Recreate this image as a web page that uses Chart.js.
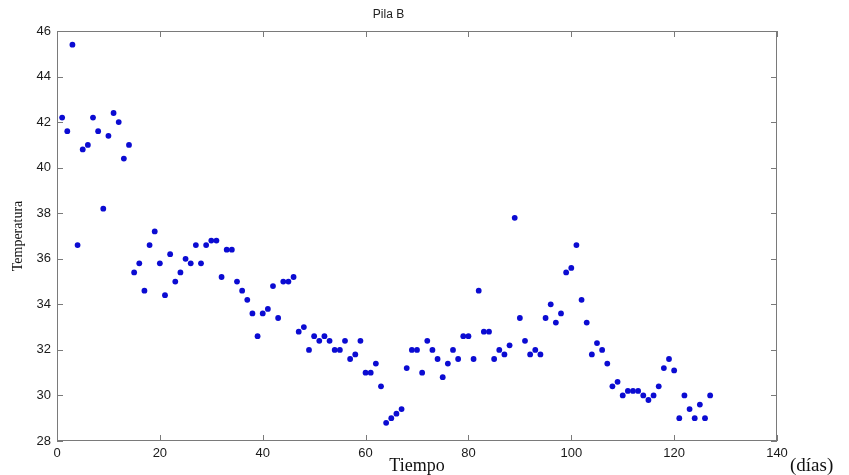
<!DOCTYPE html>
<html>
<head>
<meta charset="utf-8">
<title>Pila B</title>
<script src="https://cdn.jsdelivr.net/npm/chart.js@4"></script>
<style>
  html, body { margin: 0; padding: 0; background: #fff; }
  #grafico { display: block; }
</style>
</head>
<body>
<canvas id="grafico" width="849" height="475"></canvas>
<script>
// Temperatura diaria de la pila B (día 1 a 127)
var temperaturas = [
  42.2, 41.6, 45.4, 36.6, 40.8, 41.0, 42.2, 41.6, 38.2, 41.4,
  42.4, 42.0, 40.4, 41.0, 35.4, 35.8, 34.6, 36.6, 37.2, 35.8,
  34.4, 36.2, 35.0, 35.4, 36.0, 35.8, 36.6, 35.8, 36.6, 36.8,
  36.8, 35.2, 36.4, 36.4, 35.0, 34.6, 34.2, 33.6, 32.6, 33.6,
  33.8, 34.8, 33.4, 35.0, 35.0, 35.2, 32.8, 33.0, 32.0, 32.6,
  32.4, 32.6, 32.4, 32.0, 32.0, 32.4, 31.6, 31.8, 32.4, 31.0,
  31.0, 31.4, 30.4, 28.8, 29.0, 29.2, 29.4, 31.2, 32.0, 32.0,
  31.0, 32.4, 32.0, 31.6, 30.8, 31.4, 32.0, 31.6, 32.6, 32.6,
  31.6, 34.6, 32.8, 32.8, 31.6, 32.0, 31.8, 32.2, 37.8, 33.4,
  32.4, 31.8, 32.0, 31.8, 33.4, 34.0, 33.2, 33.6, 35.4, 35.6,
  36.6, 34.2, 33.2, 31.8, 32.3, 32.0, 31.4, 30.4, 30.6, 30.0,
  30.2, 30.2, 30.2, 30.0, 29.8, 30.0, 30.4, 31.2, 31.6, 31.1,
  29.0, 30.0, 29.4, 29.0, 29.6, 29.0, 30.0
];
var dias = [];
for (var d = 1; d <= temperaturas.length; d++) dias.push(d);

var limitesX = [0, 140];
var limitesY = [28, 46];
var pasoX = 20;
var pasoY = 2;

var puntos = dias.map(function (dia, i) {
  return { x: dia, y: temperaturas[i] };
});

// Caja del eje con marcas hacia dentro, y la unidad junto al eje x
var cajaEjes = {
  id: 'cajaEjes',
  afterDraw: function (chart) {
    var ctx = chart.ctx;
    var area = chart.chartArea;
    var sx = chart.scales.x, sy = chart.scales.y;
    var largo = 6;
    ctx.save();
    ctx.strokeStyle = '#7a7a7a';
    ctx.lineWidth = 1;
    ctx.strokeRect(area.left + 0.5, area.top + 0.5, area.right - area.left - 1, area.bottom - area.top - 1);
    ctx.beginPath();
    sx.ticks.forEach(function (t) {
      var px = Math.round(sx.getPixelForValue(t.value)) + 0.5;
      ctx.moveTo(px, area.bottom);
      ctx.lineTo(px, area.bottom - largo);
      ctx.moveTo(px, area.top);
      ctx.lineTo(px, area.top + largo);
    });
    sy.ticks.forEach(function (t) {
      var py = Math.round(sy.getPixelForValue(t.value)) + 0.5;
      ctx.moveTo(area.left, py);
      ctx.lineTo(area.left + largo, py);
      ctx.moveTo(area.right, py);
      ctx.lineTo(area.right - largo, py);
    });
    ctx.stroke();
    ctx.fillStyle = '#111';
    ctx.font = '19px "Liberation Serif", "Times New Roman", serif';
    ctx.textAlign = 'left';
    ctx.textBaseline = 'alphabetic';
    ctx.fillText('(días)', area.right + 13, 471);
    ctx.restore();
  }
};

var ctx = document.getElementById('grafico').getContext('2d');
var grafico = new Chart(ctx, {
  type: 'scatter',
  data: {
    datasets: [{
      label: 'Pila B',
      data: puntos,
      backgroundColor: '#0b0bd2',
      borderColor: '#0b0bd2',
      pointRadius: 2.9,
      pointHoverRadius: 2.9,
      borderWidth: 0
    }]
  },
  options: {
    responsive: false,
    animation: false,
    layout: { padding: { left: 0, right: 72, top: 0, bottom: 0 } },
    plugins: {
      legend: { display: false },
      tooltip: { enabled: false },
      title: {
        display: true,
        text: 'Pila B',
        color: '#222',
        font: { family: '"Liberation Sans", Arial, sans-serif', size: 12, weight: 'normal' },
        padding: { top: 7, bottom: 9.6 }
      }
    },
    scales: {
      x: {
        type: 'linear',
        min: limitesX[0],
        max: limitesX[1],
        ticks: {
          stepSize: pasoX,
          color: '#1a1a1a',
          padding: 5,
          maxRotation: 0,
          font: { family: '"Liberation Sans", Arial, sans-serif', size: 13 }
        },
        grid: { display: false, drawTicks: false },
        border: { display: false },
        title: {
          display: true,
          text: 'Tiempo',
          color: '#111',
          padding: { top: 0, bottom: 0 },
          font: { family: '"Liberation Serif", "Times New Roman", serif', size: 18, lineHeight: 1 }
        },
        afterFit: function (scale) { scale.height = 34; }
      },
      y: {
        type: 'linear',
        min: limitesY[0],
        max: limitesY[1],
        ticks: {
          stepSize: pasoY,
          color: '#1a1a1a',
          padding: 6,
          font: { family: '"Liberation Sans", Arial, sans-serif', size: 13 }
        },
        grid: { display: false, drawTicks: false },
        border: { display: false },
        title: {
          display: true,
          text: 'Temperatura',
          color: '#111',
          padding: { top: 10, bottom: 0 },
          font: { family: '"Liberation Serif", "Times New Roman", serif', size: 14 }
        },
        afterFit: function (scale) { scale.width = 57; }
      }
    }
  },
  plugins: [cajaEjes]
});
</script>
</body>
</html>
